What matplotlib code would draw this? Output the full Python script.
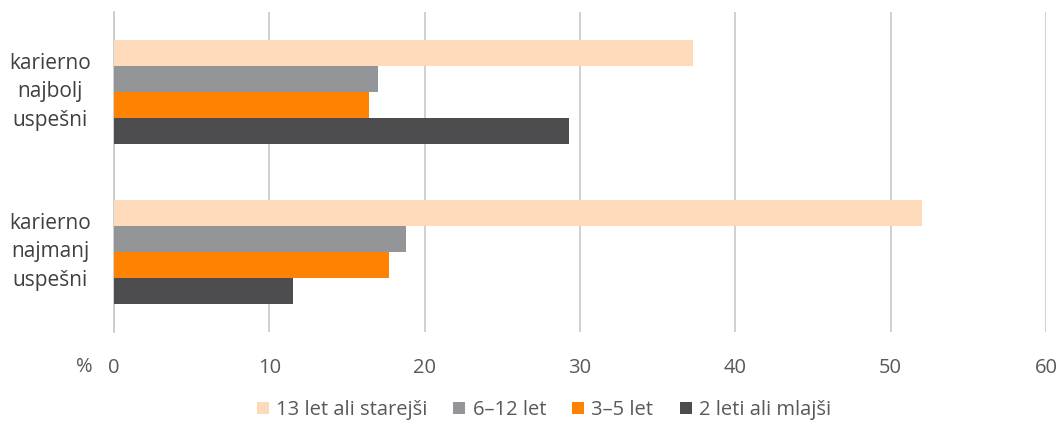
import numpy as np
import matplotlib.pyplot as plt

plt.rcParams['font.family'] = ['Open Sans', 'DejaVu Sans']

categories = ["karierno\nnajbolj\nuspešni", "karierno\nnajmanj\nuspešni"]
series = ["13 let ali starejši", "6–12 let", "3–5 let", "2 leti ali mlajši"]
values = {
    "13 let ali starejši": [37.3, 52.0],
    "6–12 let": [17.0, 18.8],
    "3–5 let": [16.4, 17.7],
    "2 leti ali mlajši": [29.3, 11.5],
}
colors = ["#FDDAB9", "#939598", "#FF8300", "#4D4D4F"]
ticks = [0, 10, 20, 30, 40, 50, 60]

fig = plt.figure(figsize=(10.62, 4.25), dpi=100)
ax = fig.add_axes([0.1073, 0.219, 0.8776, 0.753])

y = np.arange(len(categories))
h = 0.1625
for i, (name, col) in enumerate(zip(series, colors)):
    off = (i - 1.5) * h
    ax.barh(y + off, values[name], height=h, color=col, label=name, zorder=3)

ax.set_xlim(0, 60)
ax.set_ylim(1.5, -0.5)
ax.set_xticks(ticks)
ax.set_xticklabels([str(t) for t in ticks], color="#595959", fontsize=14.5)
ax.tick_params(axis="x", length=0, pad=19)
ax.set_yticks(y)
ax.set_yticklabels(categories, color="#404040", fontsize=15, ha="center", va="center",
                   linespacing=1.48)
ax.tick_params(axis="y", length=0, pad=46)
ax.grid(axis="x", color="#c8c8c8", linewidth=1.2, zorder=0)
for s in ["top", "right", "bottom"]:
    ax.spines[s].set_visible(False)
ax.spines["left"].set_color("#c8c8c8")
ax.spines["left"].set_linewidth(1.2)

fig.text(84 / 1062, 1 - 367 / 425, "%", color="#595959", fontsize=14.5, ha="center", va="center")

fig.legend(loc="center", bbox_to_anchor=(0.512, 1 - 410 / 425), ncol=4, frameon=False,
           fontsize=14.5, handlelength=0.6, handleheight=0.6, handletextpad=0.35,
           columnspacing=1.3, labelcolor="#595959")

fig.savefig("out.png", dpi=100)
